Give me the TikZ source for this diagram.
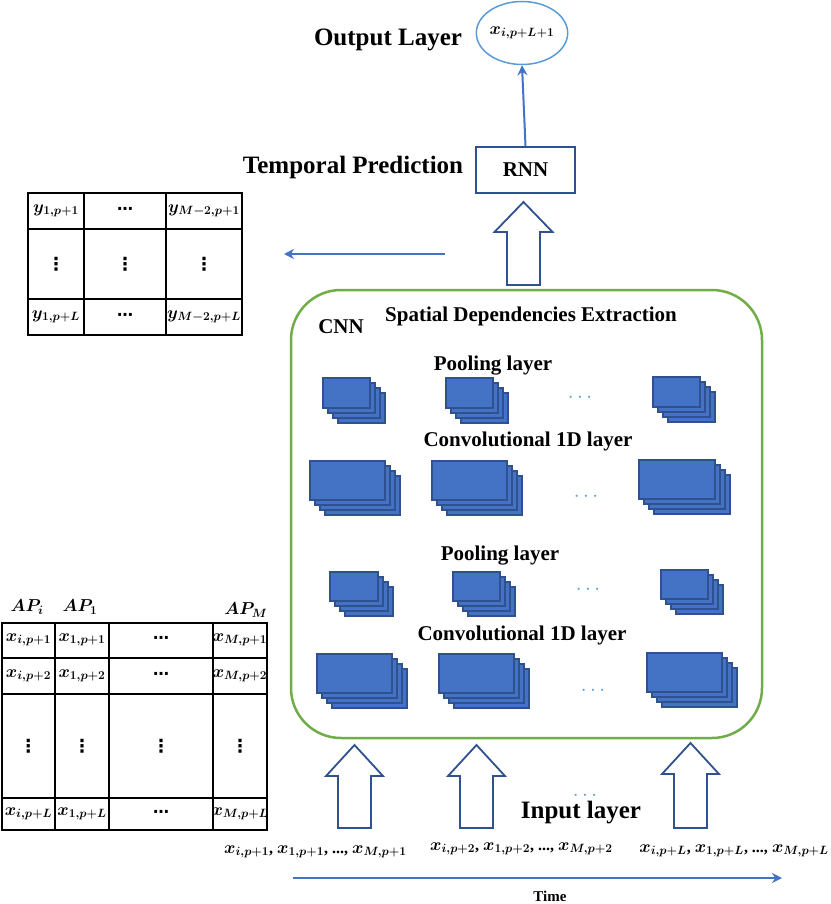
\documentclass[tikz,border=0pt]{standalone}
\usepackage{fontspec}
\setmainfont{Liberation Serif}
\newfontfamily\djv{DejaVu Sans}
\DeclareMathSizes{18}{18}{13}{9}
\DeclareMathSizes{16}{16}{12}{8}
\DeclareMathSizes{17}{17}{12}{8}
\usetikzlibrary{arrows.meta,shapes.geometric}
\definecolor{ablue}{RGB}{68,114,196}
\definecolor{dblue}{RGB}{47,82,143}
\definecolor{cgreen}{RGB}{112,173,71}
\definecolor{cblue}{RGB}{91,155,213}
\newcommand{\fmstack}[4]{\foreach \k in {3,2,1,0} {\draw[fm] ({#1+5*\k},{#2+5*\k}) rectangle ++(#3,#4);}}
\newcommand{\barrow}[6]{\draw[barr] (#1,#2) -- ({#1+#5},#3) -- ({#1+#6},#3) -- ({#1+#6},#4) -- ({#1-#6},#4) -- ({#1-#6},#3) -- ({#1-#5},#3) -- cycle;}
\newcommand{\hd}{{\djv\bfseries\fontsize{16}{16}\selectfont ⋯}}
\newcommand{\vd}{{\djv\bfseries\fontsize{18}{18}\selectfont ⋮}}
\begin{document}
\begin{tikzpicture}[x=1pt,y=-1pt,
  fm/.style={fill=ablue,draw=dblue,line width=1.2pt},
  barr/.style={draw=dblue,line width=1.8pt,fill=white,line join=miter},
  tline/.style={line width=2pt,black},
  ttl/.style={font=\fontsize{25}{28}\selectfont\bfseries,inner sep=0pt},
  sub/.style={font=\fontsize{21}{24}\selectfont\bfseries,inner sep=0pt},
  cell/.style={font=\fontsize{18}{20}\selectfont\bfseries\boldmath,inner sep=0pt},
  bcell/.style={font=\fontsize{16}{18}\selectfont\bfseries\boldmath,inner sep=0pt},
  dotsl/.style={font=\fontsize{20}{20}\selectfont,text=cblue,inner sep=0pt},
  link/.style={draw=ablue,line width=2pt,-{Stealth[length=10pt,width=10pt]}}]
\useasboundingbox (0,0) rectangle (830,904);

% top part
\node[ttl] (outl) at (388,40) {Output Layer};
\node[ellipse,draw=cblue,line width=1.5pt,minimum width=76pt,minimum height=63pt,inner sep=0pt,font=\fontsize{17}{18}\selectfont\boldmath] (out) at (522,33) {$x_{i,p+L+1}$};
\node[draw=dblue,line width=2pt,minimum width=99pt,minimum height=46pt,inner sep=0pt,font=\fontsize{21}{24}\selectfont\bfseries] (rnn) at (525.5,170) {RNN};
\node[ttl] (tp) at (353,167) {Temporal Prediction};
\draw[link] (rnn.north) -- (out.south);

\barrow{523.5}{202}{232}{285}{29}{16.5}

% left arrow
\coordinate (la1) at (445,254);
\coordinate (la2) at (284,254);
\draw[link] (la1) -- (la2);

% y table
\draw[tline] (28,193) rectangle (242,335);
\draw[tline] (28,229) -- (242,229) (28,299) -- (242,299) (84,193) -- (84,335) (166,193) -- (166,335);
\node[cell] (y11) at (56,211) {$y_{1,p+1}$};
\node[cell] (y12) at (125,211) {\hd};
\node[cell] (y13) at (204,211) {$y_{M-2,p+1}$};
\node[cell] (y21) at (56,264) {\vd};
\node[cell] (y22) at (125,264) {\vd};
\node[cell] (y23) at (204,264) {\vd};
\node[cell] (y31) at (56,317) {$y_{1,p+L}$};
\node[cell] (y32) at (125,317) {\hd};
\node[cell] (y33) at (204,317) {$y_{M-2,p+L}$};

% CNN box
\node[draw=cgreen,line width=2.5pt,rounded corners=50pt,minimum width=471pt,minimum height=448pt,inner sep=0pt] (cnn) at (526.5,514) {};
\node[sub] (cnnl) at (341,327) {CNN};
\node[sub] (sde) at (531,316) {Spatial Dependencies Extraction};
\node[sub] (pl1) at (493,366) {Pooling layer};
\node[sub] (cv1) at (528,441) {Convolutional 1D layer};
\node[sub] (pl2) at (500,556) {Pooling layer};
\node[sub] (cv2) at (522,635) {Convolutional 1D layer};

\fmstack{323}{378}{47}{30}
\fmstack{446}{378}{47}{30}
\fmstack{653}{377}{47}{30}
\node[dotsl] (d1) at (580,398) {$\cdots$};

\fmstack{310}{461}{75}{39}
\fmstack{432}{461}{75}{39}
\fmstack{639}{460}{76}{39}
\node[dotsl] (d2) at (586,497) {$\cdots$};

\fmstack{330}{572}{48}{29}
\fmstack{453}{572}{47}{29}
\fmstack{661}{570}{47}{29}
\node[dotsl] (d3) at (588,590) {$\cdots$};

\fmstack{317}{654}{75}{39}
\fmstack{439}{654}{75}{39}
\fmstack{647}{653}{75}{39}
\node[dotsl] (d4) at (593,691) {$\cdots$};

% input arrows
\barrow{354.5}{745}{776}{828}{28.5}{16.5}
\barrow{476.5}{745}{776}{828}{28.5}{16.5}
\barrow{690.5}{743}{774}{828}{28.5}{16.5}
\node[dotsl] (d5) at (585,796) {$\cdots$};
\node[font=\fontsize{25}{28}\selectfont\bfseries,inner sep=0pt] (inl) at (581,813) {Input layer};

% x table
\node[cell] (api) at (27,607) {$AP_i$};
\node[cell] (ap1) at (80,607) {$AP_1$};
\node[cell] (apm) at (246,610) {$AP_M$};
\draw[tline] (2,623) rectangle (267,830);
\draw[tline] (2,658) -- (267,658) (2,694) -- (267,694) (2,798) -- (267,798)
  (55,623) -- (55,830) (109,623) -- (109,830) (213,623) -- (213,830);
\node[cell] (x11) at (28.5,640) {$x_{i,p+1}$};
\node[cell] (x12) at (82,640) {$x_{1,p+1}$};
\node[cell] (x13) at (161,640) {\hd};
\node[cell] (x14) at (240,640) {$x_{M,p+1}$};
\node[cell] (x21) at (28.5,676) {$x_{i,p+2}$};
\node[cell] (x22) at (82,676) {$x_{1,p+2}$};
\node[cell] (x23) at (161,676) {\hd};
\node[cell] (x24) at (240,676) {$x_{M,p+2}$};
\node[cell] (x31) at (28.5,746) {\vd};
\node[cell] (x32) at (82,746) {\vd};
\node[cell] (x33) at (161,746) {\vd};
\node[cell] (x34) at (240,746) {\vd};
\node[cell] (x41) at (28.5,814) {$x_{i,p+L}$};
\node[cell] (x42) at (82,814) {$x_{1,p+L}$};
\node[cell] (x43) at (161,814) {\hd};
\node[cell] (x44) at (240,814) {$x_{M,p+L}$};

% bottom labels
\node[bcell,anchor=west] (s1) at (224,852) {$x_{i,p+1}$, $x_{1,p+1}$, ..., $x_{M,p+1}$};
\node[bcell,anchor=west] (s2) at (430,849) {$x_{i,p+2}$, $x_{1,p+2}$, ..., $x_{M,p+2}$};
\node[bcell,anchor=east] (s3) at (829,851) {$x_{i,p+L}$, $x_{1,p+L}$, ..., $x_{M,p+L}$};

\coordinate (t1) at (293,878);
\coordinate (t2) at (782,878);
\draw[link] (t1) -- (t2);
\node[font=\fontsize{15}{17}\selectfont\bfseries,inner sep=0pt] (time) at (550,896) {Time};
\end{tikzpicture}
\end{document}
